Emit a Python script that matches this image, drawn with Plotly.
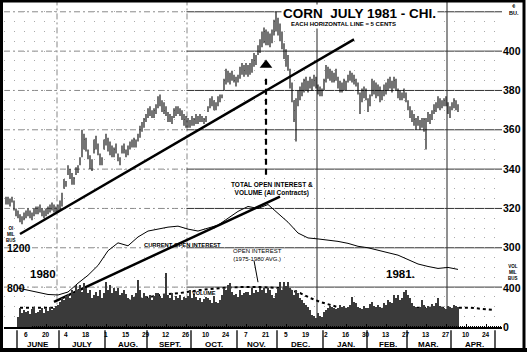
import pandas as pd
import plotly.graph_objects as go

# ---------------- DATA ----------------
# daily bars, trading days from 1980-05-23 to 1981-04-06
bar_start = "1980-05-23"
bar_end = "1981-04-06"

price_high = [326,
    326, 325, 326, 324, 320,  319, 317, 316, 318, 319,  320, 319, 318, 320, 321,
    321, 322, 320, 319, 320,  321, 322, 323, 322, 321,  322, 324, 328, 335, 334,
    342, 340, 338, 336, 341,  342, 346, 360, 358, 356,  350, 347, 345, 355, 357,
    353, 348, 346, 355, 358,  356, 354, 352, 351, 353,  348, 346, 352, 353, 350,
    352, 354, 355, 356, 355,  358, 362, 364, 366, 368,  371, 372, 370, 371, 373,
    377, 378, 375, 374, 372,  369, 368, 367, 371, 372,  372, 371, 370, 368, 367,
    366, 365, 367, 366, 368,  367, 368, 367, 366, 367,  372, 376, 377, 375, 374,
    377, 378, 378, 386, 391,  390, 389, 390, 388, 387,  388, 392, 394, 393, 394,
    393, 394, 396, 399, 398,  403, 406, 410, 412, 411,  410, 409, 411, 416, 420,
    417, 414, 410, 404, 401,  398, 391, 384, 375, 376,  380, 382, 384, 386, 387,
    385, 387, 386, 388, 387,  383, 382, 381, 386, 393,  392, 391, 390, 389, 391,
    387, 385, 384, 386, 385,  388, 390, 389, 388, 386,  384, 379, 381, 382, 381,
    376, 378, 386, 385, 384,  383, 382, 380, 383, 384,  386, 387, 385, 387, 386,
    381, 380, 379, 381, 379,  375, 372, 370, 368, 366,  367, 365, 366, 366, 366,
    369, 368, 370, 373, 374,  377, 376, 375, 376, 377,  374, 372, 374, 376, 375,
    373]
price_low = [322,
    322, 321, 323, 319, 316,  315, 313, 312, 314, 315,  316, 315, 314, 316, 317,
    317, 318, 316, 315, 316,  317, 318, 319, 318, 318,  318, 319, 321, 330, 331,
    337, 335, 332, 332, 337,  338, 342, 346, 350, 349,  345, 340, 339, 348, 350,
    347, 342, 342, 350, 352,  349, 347, 346, 346, 348,  344, 342, 348, 348, 346,
    347, 350, 351, 351, 351,  354, 356, 359, 361, 364,  366, 367, 366, 366, 368,
    371, 372, 369, 368, 367,  364, 364, 363, 366, 367,  368, 367, 365, 362, 361,
    361, 361, 362, 362, 363,  363, 364, 364, 363, 364,  369, 371, 372, 370, 370,
    372, 374, 376, 380, 383,  384, 383, 385, 384, 382,  384, 386, 388, 387, 388,
    387, 388, 389, 392, 393,  398, 399, 402, 404, 403,  403, 402, 404, 408, 410,
    408, 405, 401, 396, 392,  390, 381, 374, 364, 354,  372, 375, 377, 379, 380,
    379, 381, 380, 382, 381,  378, 377, 377, 380, 384,  386, 385, 384, 384, 385,
    381, 379, 379, 380, 380,  384, 385, 384, 383, 382,  378, 368, 374, 376, 375,
    369, 372, 377, 378, 376,  377, 374, 375, 377, 378,  380, 381, 379, 381, 380,
    376, 375, 375, 376, 374,  370, 366, 364, 362, 360,  362, 360, 361, 359, 350,
    364, 363, 365, 368, 369,  371, 370, 371, 372, 372,  368, 366, 370, 371, 370,
    369]

# daily volume (all contracts), from 1980-06-02
vol_start = "1980-06-02"
volume = [
    110, 200, 150, 180, 160,  170, 140, 190, 210, 150,  160, 180, 200, 150, 190,
    170, 210, 180, 200, 220,  230, 260, 300, 280, 320,  340, 300, 380, 350, 430,
    380, 430, 360, 450, 400,  350, 380, 300, 330, 360,  320, 380, 300, 350, 460,
    380, 430, 350, 400, 370,  400, 330, 350, 380, 340,  300, 280, 330, 310, 350,
    480, 380, 300, 350, 320,  300, 330, 280, 320, 350,  350, 320, 300, 340, 550,
    330, 300, 350, 280, 320,  300, 330, 280, 310, 300,  320, 380, 300, 340, 310,
    280, 300, 260, 290, 310,  300, 280, 250, 320, 260,  250, 280, 330, 400, 380,
    430, 450, 360, 330, 340,  310, 380, 330, 350, 360,  360, 330, 400, 350, 380,
    360, 400, 380, 400, 350,  400, 380, 330, 300, 350,  400, 460, 380, 460, 420,
    460, 400, 380, 330, 380,  350, 300, 280, 250, 230,  210, 180, 130, 120, 100,
    150, 120, 110, 160, 180,  200, 220, 210, 200, 190,  200, 230, 210, 220, 200,
    210, 230, 310, 260, 250,  210, 200, 190, 220, 200,  200, 240, 260, 220, 210,
    230, 210, 200, 250, 230,  280, 260, 250, 330, 300,  330, 280, 300, 360, 380,
    330, 300, 250, 220, 210,  200, 210, 280, 230, 200,  220, 210, 240, 220, 250,
    300, 220, 210, 200, 190,  220, 210, 200, 230, 220,  210]

# current open interest, weekly (Mondays from 1980-06-02)
oi_start = "1980-06-02"
open_interest = [800, 780, 760, 735, 730, 760, 850, 930, 1030, 1180, 1260, 1230,
                 1320, 1380, 1400, 1420, 1430, 1400, 1380, 1410, 1440, 1510, 1580,
                 1630, 1610, 1650, 1560, 1470, 1360, 1310, 1300, 1290, 1275, 1255,
                 1225, 1210, 1185, 1165, 1135, 1090, 1045, 1020, 1000, 1010, 990]

# open interest 1975-1980 average
avg_dates = ["1980-06-03", "1980-06-30", "1980-07-17", "1980-07-29", "1980-08-12",
             "1980-08-26", "1980-09-09", "1980-09-23", "1980-10-07", "1980-10-21",
             "1980-11-04", "1980-11-18", "1980-12-02", "1980-12-09", "1980-12-16",
             "1980-12-23", "1980-12-30", "1981-01-06", "1981-01-13", "1981-01-20",
             "1981-02-03", "1981-02-24", "1981-04-14", "1981-04-29"]
avg_oi = [600, 600, 630, 660, 660, 690, 730, 750, 780, 800, 810, 810, 800, 780,
          750, 700, 660, 630, 600, 580, 580, 600, 600, 580]

# trend lines
price_trend_dates = ["1980-06-03", "1981-01-22"]
price_trend = [307, 406]
oi_trend_dates = ["1980-06-26", "1980-12-02"]
oi_trend = [660, 1730]

# arrow (peak signal)
arrow_date = "1980-11-21"
arrow_head = 393
arrow_shaft = [386, 336]

# axes labels
price_ticks = [280, 300, 320, 340, 360, 380, 400, 420]
price_labels = ["", "300", "320", "340", "360", "380", "400", ""]
oi_ticks = [400, 800, 1200]
vol_ticks = [0, 400]
day_tick_start = "1980-06-06"
day_tick_end = "1981-04-24"
quarter_lines = ["1980-06-27 12:00", "1980-09-26 12:00", "1980-12-26 12:00", "1981-03-27 12:00"]
months = ["JUNE", "JULY", "AUG.", "SEPT.", "OCT.", "NOV.", "DEC.", "JAN.", "FEB.", "MAR.", "APR."]
month_starts = ["1980-06-01", "1980-07-01", "1980-08-01", "1980-09-01", "1980-10-01",
                "1980-11-01", "1980-12-01", "1981-01-01", "1981-02-01", "1981-03-01",
                "1981-04-01", "1981-05-01"]

# ---------------- FIGURE ----------------
W, H = 527, 358
def px(x):
    return x / W
def py(y):
    return 1 - y / H

SANS = "Liberation Sans, Arial, sans-serif"
X_LEFT, X_RIGHT = "1980-05-22", "1981-05-06"

days = pd.bdate_range(bar_start, bar_end)
vdays = pd.bdate_range(vol_start, bar_end)
oi_days = pd.date_range(oi_start, periods=len(open_interest), freq="7D")

fig = go.Figure()

# volume bars
fig.add_trace(go.Bar(x=vdays, y=volume, yaxis="y3", marker=dict(color="#3a3a3a", line=dict(width=0)),
                     width=0.42 * 86400000, showlegend=False, hoverinfo="skip"))

# open interest
fig.add_trace(go.Scatter(x=oi_days, y=open_interest, yaxis="y2", mode="lines",
                         line=dict(color="black", width=1), showlegend=False))
fig.add_trace(go.Scatter(x=pd.to_datetime(avg_dates), y=avg_oi, yaxis="y2", mode="lines",
                         line=dict(color="black", width=2, dash="dot"), showlegend=False))
fig.add_trace(go.Scatter(x=pd.to_datetime(oi_trend_dates), y=oi_trend, yaxis="y2", mode="lines",
                         line=dict(color="black", width=2.5), showlegend=False))

# price high-low bars
bx, by = [], []
for d, h, l in zip(days, price_high, price_low):
    bx += [d, d, None]
    by += [l, h, None]
fig.add_trace(go.Scatter(x=bx, y=by, mode="lines", line=dict(color="black", width=1.1),
                         showlegend=False, connectgaps=False))

fig.add_trace(go.Scatter(x=pd.to_datetime(price_trend_dates), y=price_trend, mode="lines",
                         line=dict(color="black", width=2.5), showlegend=False))

# arrow
fig.add_trace(go.Scatter(x=[pd.Timestamp(arrow_date)] * 2, y=arrow_shaft, mode="lines",
                         line=dict(color="black", width=2.2, dash="6px,4px"), showlegend=False))
fig.add_trace(go.Scatter(x=[pd.Timestamp(arrow_date)], y=[arrow_head], mode="markers",
                         marker=dict(symbol="triangle-up", size=11, color="black"), showlegend=False))

# day ticks
tick_days = pd.date_range(day_tick_start, day_tick_end, freq="14D")

shapes = []
annotations = []

# horizontal grid: dashed grey on the left part, solid on the right part
for v in price_ticks:
    shapes.append(dict(type="line", xref="x", yref="y", layer="below", x0=X_LEFT, x1=quarter_lines[1],
                       y0=v, y1=v, line=dict(color="#8a8a8a", width=1, dash="6px,3px,2px,3px")))
    shapes.append(dict(type="line", xref="x", yref="y", layer="below", x0=quarter_lines[1], x1=X_RIGHT,
                       y0=v, y1=v, line=dict(color="#333", width=1)))

for i, q in enumerate(quarter_lines):
    style = dict(color="#888", width=1, dash="6px,3px,2px,3px") if i < 2 else dict(color="#222", width=1)
    shapes.append(dict(type="line", xref="x", yref="paper", layer="below", x0=q, x1=q,
                       y0=py(333), y1=py(2), line=style))

for d in tick_days:
    annotations.append(dict(x=d, y=py(340), xref="x", yref="paper", text=str(d.day), showarrow=False,
                            xanchor="center", yanchor="middle",
                            font=dict(family=SANS, size=6.5, color="black", weight="bold")))

# month separators and labels
for i, ms in enumerate(month_starts):
    first = pd.bdate_range(ms, periods=1)[0]
    prev = first - pd.tseries.offsets.BDay(1)
    sep = prev + pd.Timedelta(hours=12)
    shapes.append(dict(type="line", xref="x", yref="paper", x0=sep, x1=sep, y0=py(336), y1=py(354),
                       line=dict(color="black", width=1.3)))
    if i < len(months):
        mid = pd.Timestamp(ms) + pd.Timedelta(days=15)
        annotations.append(dict(x=mid, y=py(350), xref="x", yref="paper", text=months[i],
                                showarrow=False, xanchor="center", yanchor="middle",
                                font=dict(family=SANS, size=8, color="black", weight="bold")))

# frame
shapes.append(dict(type="rect", xref="paper", yref="paper", x0=px(1.5), x1=px(524), y0=py(356), y1=py(1),
                   line=dict(color="black", width=3)))
shapes.append(dict(type="line", xref="paper", yref="paper", x0=0, x1=1, y0=py(356), y1=py(356),
                   line=dict(color="black", width=4)))
# pointer for average OI
shapes.append(dict(type="line", xref="paper", yref="paper", x0=px(254), x1=px(258), y0=py(265), y1=py(287),
                   line=dict(color="black", width=1)))

def txt(x, y, text, size, bold=True, bg=None):
    d = dict(x=px(x), y=py(y), xref="paper", yref="paper", text=text, showarrow=False,
             font=dict(family=SANS, size=size, color="black", weight="bold" if bold else "normal"),
             xanchor="center", yanchor="middle", align="center")
    if bg:
        d["bgcolor"] = bg
    return d

annotations += [
    txt(359, 14, "CORN  JULY 1981 - CHI.", 13.5, bg="white"),
    txt(343, 24, "EACH HORIZONTAL LINE = 5 CENTS", 6, bg="white"),
    txt(514, 10, "¢<br>BU.", 5.5),
    txt(11, 238, "OI<br>MIL<br>BUS", 4.5),
    txt(513, 277, "VOL<br>MIL<br>BUS", 4.5),
    txt(43, 279, "1980", 11.5),
    txt(400, 279, "1981.", 11.5),
    txt(272, 192, "TOTAL OPEN INTEREST &<br>VOLUME (All Contracts)", 6.5),
    txt(182, 249, "CURRENT OPEN INTEREST", 5.8),
    txt(257, 259, "OPEN INTEREST<br>(1975-1980 AVG.)", 6, bold=False),
    txt(204, 298, "VOLUME", 5.5),
]

fig.update_layout(
    width=W, height=H, margin=dict(l=0, r=0, t=0, b=0),
    paper_bgcolor="white", plot_bgcolor="white",
    showlegend=False, bargap=0,
    xaxis=dict(domain=[px(4), px(502)], type="date", range=[X_LEFT, X_RIGHT],
               rangebreaks=[dict(bounds=["sat", "mon"])],
               tickmode="array", tickvals=tick_days, showticklabels=False,
               ticks="inside", ticklen=4, tickcolor="black",
               minor=dict(ticks="inside", ticklen=2, tickcolor="black", dtick=86400000, showgrid=False),
               showline=True, linecolor="black", linewidth=1.5, showgrid=False, zeroline=False,
               fixedrange=True),
    yaxis=dict(domain=[py(333), py(2)], range=[259.5, 425], side="right",
               tickmode="array", tickvals=price_ticks, ticktext=price_labels,
               tickfont=dict(family=SANS, size=10.5, color="black", weight="bold"),
               showgrid=False, zeroline=False, ticks="",
               minor=dict(tickmode="linear", tick0=0, dtick=5, showgrid=True, gridcolor="#aaa",
                          griddash="1px,9px", gridwidth=1)),
    yaxis2=dict(overlaying="y", side="left", range=[400, 3710], tickmode="array", tickvals=oi_ticks,
                ticklabelposition="inside", showgrid=False, zeroline=False,
                tickfont=dict(family=SANS, size=10.5, color="black", weight="bold")),
    yaxis3=dict(overlaying="y", side="right", range=[0, 3310], tickmode="array", tickvals=vol_ticks,
                showgrid=False, zeroline=False,
                tickfont=dict(family=SANS, size=10.5, color="black", weight="bold")),
    shapes=shapes, annotations=annotations,
)

fig.write_html("out.html")
